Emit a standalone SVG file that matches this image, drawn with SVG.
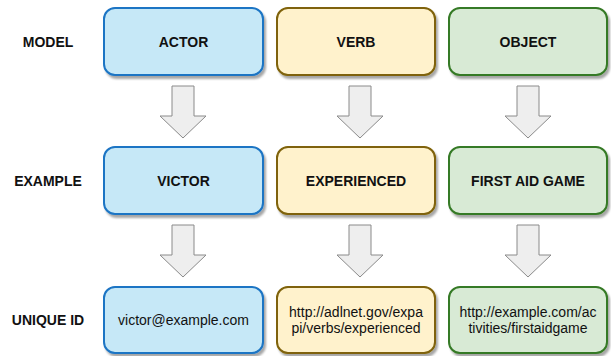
<svg xmlns="http://www.w3.org/2000/svg" width="611" height="356" viewBox="0 0 611 356">
  <defs>
    <filter id="shadow" x="-10%" y="-10%" width="125%" height="135%">
      <feGaussianBlur in="SourceAlpha" stdDeviation="1.2"/>
      <feOffset dx="2" dy="2.5" result="b"/>
      <feComponentTransfer><feFuncA type="linear" slope="0.35"/></feComponentTransfer>
      <feMerge><feMergeNode/><feMergeNode in="SourceGraphic"/></feMerge>
    </filter>
    <path id="downArrow" d="M-11,0 H11 V30 H23 L0,52 L-23,30 H-11 Z"/>
  </defs>
  <style>
    .box { stroke-width: 2; filter: url(#shadow); }
    .blue { fill: #c6e8f7; stroke: #1b74c4; }
    .yellow { fill: #fff2cc; stroke: #7f6207; }
    .green { fill: #d8ead5; stroke: #367a26; }
    .arrow { fill: #eeeeee; stroke: #8a8a8a; stroke-width: 1; }
    text { font-family: "Liberation Sans", Arial, sans-serif; font-size: 14px; fill: #111; text-anchor: middle; dominant-baseline: central; }
    .b { font-weight: bold; }
  </style>

  <!-- row labels -->
  <g id="label-model"><text class="b" x="48" y="42">MODEL</text></g>
  <g id="label-example"><text class="b" x="48" y="181">EXAMPLE</text></g>
  <g id="label-unique-id"><text class="b" x="48" y="320">UNIQUE ID</text></g>

  <!-- model row -->
  <g id="actor">
    <rect class="box blue" x="104" y="8" width="159" height="67" rx="11"/>
    <text class="b" x="183.5" y="42">ACTOR</text>
  </g>
  <g id="verb">
    <rect class="box yellow" x="277" y="8" width="158" height="67" rx="11"/>
    <text class="b" x="356" y="42">VERB</text>
  </g>
  <g id="object">
    <rect class="box green" x="449" y="8" width="158" height="67" rx="11"/>
    <text class="b" x="528" y="42">OBJECT</text>
  </g>

  <!-- example row -->
  <g id="victor">
    <rect class="box blue" x="104" y="147" width="159" height="67" rx="11"/>
    <text class="b" x="183.5" y="181">VICTOR</text>
  </g>
  <g id="experienced">
    <rect class="box yellow" x="277" y="147" width="158" height="67" rx="11"/>
    <text class="b" x="356" y="181">EXPERIENCED</text>
  </g>
  <g id="first-aid-game">
    <rect class="box green" x="449" y="147" width="158" height="67" rx="11"/>
    <text class="b" x="528" y="181">FIRST AID GAME</text>
  </g>

  <!-- unique id row -->
  <g id="victor-email">
    <rect class="box blue" x="104" y="287" width="159" height="66" rx="11"/>
    <text x="183.5" y="320">victor@example.com</text>
  </g>
  <g id="experienced-iri">
    <rect class="box yellow" x="277" y="287" width="158" height="66" rx="11"/>
    <text x="356" y="312">http://adlnet.gov/expa</text>
    <text x="356" y="328">pi/verbs/experienced</text>
  </g>
  <g id="first-aid-game-iri">
    <rect class="box green" x="449" y="287" width="158" height="66" rx="11"/>
    <text x="528" y="312">http://example.com/ac</text>
    <text x="528" y="328">tivities/firstaidgame</text>
  </g>

  <!-- connectors -->
  <g id="connectors">
    <use href="#downArrow" class="arrow" x="183" y="86"/>
    <use href="#downArrow" class="arrow" x="360" y="86"/>
    <use href="#downArrow" class="arrow" x="528" y="86"/>
    <use href="#downArrow" class="arrow" x="183" y="225"/>
    <use href="#downArrow" class="arrow" x="360" y="225"/>
    <use href="#downArrow" class="arrow" x="528" y="225"/>
  </g>
</svg>
